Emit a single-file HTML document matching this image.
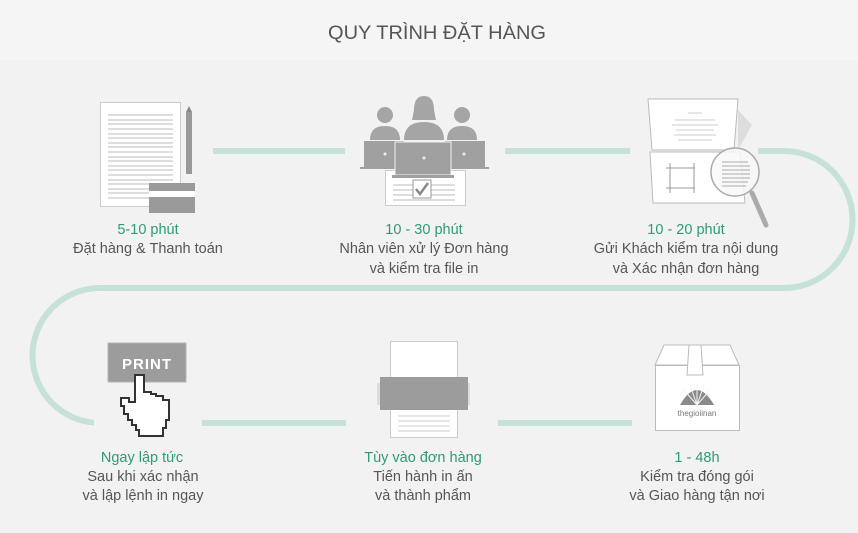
<!DOCTYPE html>
<html><head><meta charset="utf-8"><style>
html,body{margin:0;padding:0;background:#f2f2f2;}
svg{display:block;font-family:"Liberation Sans",sans-serif;}
.g{fill:#2e9a78;font-size:14.5px;text-anchor:middle;}
.t{fill:#555;font-size:14.5px;text-anchor:middle;}
</style></head><body>
<svg width="858" height="533" viewBox="0 0 858 533" xmlns="http://www.w3.org/2000/svg">
<rect x="0" y="0" width="858" height="60" fill="#f5f5f5"/>
<rect x="0" y="60" width="858" height="473" fill="#f2f2f2"/>
<text x="437" y="39" fill="#555" font-size="19" text-anchor="middle" textLength="218" lengthAdjust="spacingAndGlyphs">QUY TRÌNH ĐẶT HÀNG</text>

<g stroke="#c6e1d9" stroke-width="6" fill="none">
<line x1="213" y1="151" x2="345" y2="151"/>
<line x1="505" y1="151" x2="630" y2="151"/>
<path d="M758 151 H784 A68.5 68.5 0 0 1 784 288 H100 A67.5 67.5 0 0 0 100 423 H100"/>
<line x1="202" y1="423" x2="346" y2="423"/>
<line x1="498" y1="423" x2="632" y2="423"/>
</g>
<rect x="94" y="415" width="8" height="16" fill="#f2f2f2"/>

<rect x="100.5" y="102.5" width="80" height="104" fill="#fff" stroke="#ccc"/>
<g stroke="#bbb" stroke-width="1">
<path d="M108 115H173M108 120H173M108 124H173M108 129H173M108 134H173M108 138H173M108 143H173M108 147H173M108 152H173M108 157H173M108 161H173M108 166H173M108 170H173M108 175H173M108 180H173M108 184H173M108 189H173M108 193H173M108 198H173"/>
</g>
<rect x="186" y="112" width="6" height="62" fill="#999"/>
<polygon points="186,112 192,112 189,106" fill="#888"/>
<rect x="149" y="183" width="46" height="30" fill="#9a9a9a"/>
<rect x="149" y="191" width="46" height="6" fill="#fff"/>

<rect x="385.5" y="170.5" width="80" height="35" fill="#fff" stroke="#ccc"/>
<g stroke="#bbb"><path d="M393 185H455M393 190H455M393 195H455M393 200H455"/></g>
<rect x="413" y="180" width="18" height="18" fill="#fff" stroke="#999"/>
<path d="M416 189l4 5 8-11" stroke="#888" stroke-width="2.5" fill="none"/>
<g fill="#a5a5a5">
<circle cx="385" cy="115" r="8"/><path d="M370 140 q0-14 15-14 q15 0 15 14z"/>
<circle cx="462" cy="115" r="8"/><path d="M447 140 q0-14 15-14 q15 0 15 14z"/>
<circle cx="424" cy="110" r="10"/><path d="M404 140 q0-18 20-18 q20 0 20 18z"/>
<path d="M414 110 q0-14 10-14 q10 0 10 14 l2 10 h-24z"/>
</g>
<g fill="#a0a0a0">
<rect x="364" y="141" width="40" height="26"/><rect x="360" y="167" width="48" height="2"/>
<rect x="445" y="141" width="40" height="26"/><rect x="441" y="167" width="48" height="2"/>
<rect x="395" y="142" width="56" height="33" stroke="#f2f2f2"/><rect x="392" y="175" width="62" height="3"/>
</g>
<g fill="#eee"><circle cx="385" cy="154" r="1.5"/><circle cx="464" cy="154" r="1.5"/><circle cx="424" cy="158" r="1.5"/></g>

<polygon points="648,99 738,99 734,150 652,150" fill="#fff" stroke="#bbb"/>
<polygon points="738,110 752,125 738,150" fill="#ddd"/>
<polygon points="650,152 740,152 745,203 653,203" fill="#fff" stroke="#bbb"/>
<g stroke="#ccc"><path d="M675 120H715M672 125H718M676 130H714M674 135H716M678 140H712M688 113H702"/></g>
<g stroke="#999"><path d="M670 163V193M666 168H695M666 188H695M694 163V193"/></g>
<circle cx="735" cy="172" r="24" fill="#f8f8f8" fill-opacity="0.85" stroke="#aaa" stroke-width="1.5"/>
<g stroke="#aaa"><path d="M722 162H748M722 166H750M722 170H750M722 174H750M722 178H750M722 182H748M722 186H746"/></g>
<line x1="752" y1="193" x2="766" y2="225" stroke="#aaa" stroke-width="5" stroke-linecap="round"/>

<rect x="108" y="343" width="78" height="39" fill="#9c9c9c" stroke="#b5b5b5"/>
<text x="147" y="369" fill="#fff" font-size="15" font-weight="bold" text-anchor="middle" letter-spacing="1">PRINT</text>
<path d="M135 375 H144 V392 H151 V394 H156 V396 H163 V400 H169 V420 H166 V428 H163 V436 H139 V430 H136 V425 H132 V420 H128 V414 H124 V406 H121 V398 H129 V402 H135 Z" fill="#fff" stroke="#333" stroke-width="2"/>

<rect x="390.5" y="341.5" width="67" height="96" fill="#fff" stroke="#ccc"/>
<rect x="377" y="383" width="4" height="22" fill="#ddd"/>
<rect x="466" y="383" width="4" height="22" fill="#ddd"/>
<rect x="380" y="377" width="88" height="33" fill="#9c9c9c"/>
<g stroke="#ccc"><path d="M398 416H450M398 421H450M398 426H450M398 431H450"/></g>

<polygon points="664,345 730,345 739,365 655,365" fill="#fff" stroke="#bbb"/>
<rect x="655.5" y="365.5" width="84" height="65" fill="#fff" stroke="#bbb"/>
<polygon points="689,345 701,345 703,375 687,375" fill="#fff" stroke="#bbb"/>
<path d="M680 405 q17-30 34 0z" fill="#8a8a8a"/>
<g stroke="#f5f5f5" stroke-width="1"><path d="M697 405L684 390M697 405L690 385M697 405L697 383M697 405L704 385M697 405L710 390"/></g>
<text x="697" y="416" fill="#777" font-size="8" text-anchor="middle">thegioiinan</text>

<text class="g" x="148" y="234">5-10 phút</text>
<text class="t" x="148" y="253">Đặt hàng &amp; Thanh toán</text>
<text class="g" x="424" y="234">10 - 30 phút</text>
<text class="t" x="424" y="253">Nhân viên xử lý Đơn hàng</text>
<text class="t" x="424" y="273">và kiểm tra file in</text>
<text class="g" x="686" y="234">10 - 20 phút</text>
<text class="t" x="686" y="253">Gửi Khách kiểm tra nội dung</text>
<text class="t" x="686" y="273">và Xác nhận đơn hàng</text>
<text class="g" x="142" y="462">Ngay lập tức</text>
<text class="t" x="143" y="481">Sau khi xác nhận</text>
<text class="t" x="143" y="500">và lập lệnh in ngay</text>
<text class="g" x="423" y="462">Tùy vào đơn hàng</text>
<text class="t" x="423" y="481">Tiến hành in ấn</text>
<text class="t" x="423" y="500">và thành phẩm</text>
<text class="g" x="697" y="462">1 - 48h</text>
<text class="t" x="697" y="481">Kiểm tra đóng gói</text>
<text class="t" x="697" y="500">và Giao hàng tận nơi</text>
</svg>
</body></html>
